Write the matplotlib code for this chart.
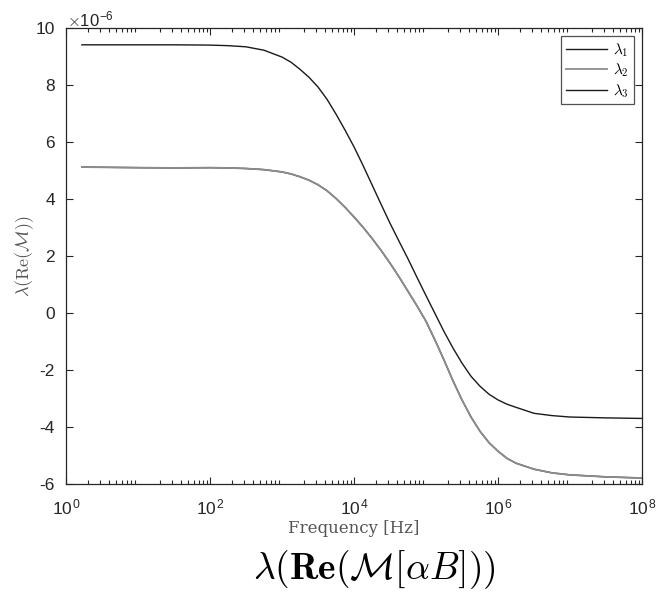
import numpy as np
import matplotlib
matplotlib.use("Agg")
import matplotlib.pyplot as plt
from matplotlib.ticker import LogLocator, NullFormatter

plt.rcParams['axes.unicode_minus'] = False
plt.rcParams['mathtext.fontset'] = 'cm'
plt.rcParams['font.family'] = ['Liberation Sans', 'DejaVu Sans']

# log10 of frequency (Hz) at which values were read
log_freq = [0.22, 1.0, 1.5, 2.0, 2.25, 2.5, 2.75, 3.0, 3.125, 3.25, 3.375, 3.5, 3.625,
            3.75, 3.875, 4.0, 4.125, 4.25, 4.375, 4.5, 4.625, 4.75, 4.875, 5.0, 5.125,
            5.25, 5.375, 5.5, 5.625, 5.75, 5.875, 6.0, 6.125, 6.25, 6.5, 6.75, 7.0,
            7.5, 8.0]
freq = [10 ** v for v in log_freq]

# Eigenvalues (units of 1e-6)
lambda3 = [9.41, 9.41, 9.41, 9.40, 9.38, 9.34, 9.22, 8.98, 8.80, 8.55, 8.27, 7.93, 7.50,
           6.98, 6.42, 5.83, 5.18, 4.50, 3.82, 3.15, 2.52, 1.90, 1.25, 0.61, -0.02,
           -0.65, -1.23, -1.76, -2.22, -2.57, -2.85, -3.05, -3.20, -3.31, -3.52, -3.60, -3.65,
           -3.68, -3.70]
lambda2 = [5.12, 5.10, 5.09, 5.10, 5.09, 5.07, 5.03, 4.95, 4.88, 4.78, 4.66, 4.50, 4.29,
           4.02, 3.71, 3.37, 3.01, 2.62, 2.20, 1.75, 1.27, 0.76, 0.25, -0.29, -0.95,
           -1.65, -2.38, -3.05, -3.65, -4.15, -4.55, -4.85, -5.10, -5.27, -5.48, -5.61, -5.68,
           -5.75, -5.79]
lambda1 = list(lambda2)

labels = [r'$\lambda_1$', r'$\lambda_2$', r'$\lambda_3$']
yticks = [10, 8, 6, 4, 2, 0, -2, -4, -6]
xticks = [1e0, 1e2, 1e4, 1e6, 1e8]
xticklabels = [r'10$^{\mathregular{0}}$', r'10$^{\mathregular{2}}$', r'10$^{\mathregular{4}}$',
               r'10$^{\mathregular{6}}$', r'10$^{\mathregular{8}}$']

fig = plt.figure(figsize=(6.56, 5.92), dpi=100)
ax = fig.add_axes([66/656, 1-484/592, (642-66)/656, (484-28)/592])

ax.plot(freq, lambda1, color='#1a1a1a', lw=1.0, label=labels[0])
ax.plot(freq, lambda2, color='#8c8c8c', lw=1.3, label=labels[1])
ax.plot(freq, lambda3, color='#1a1a1a', lw=1.0, label=labels[2])

ax.set_xscale('log')
ax.set_xlim(1, 1e8)
ax.set_ylim(-6, 10)
ax.set_xticks(xticks)
ax.set_xticklabels(xticklabels)
ax.xaxis.set_minor_locator(LogLocator(base=10, subs=np.arange(2, 10), numticks=100))
ax.xaxis.set_minor_formatter(NullFormatter())
ax.set_yticks(yticks)
ax.set_yticklabels([str(v) for v in yticks])

ax.tick_params(which='both', direction='in', top=True, right=True, labelsize=12.5,
               color='#262626', labelcolor='#262626', width=0.8)
ax.tick_params(which='major', length=5)
ax.tick_params(which='minor', length=3)
ax.tick_params(axis='x', pad=10)
ax.tick_params(axis='y', pad=8)
for s in ax.spines.values():
    s.set_linewidth(0.9)
    s.set_color('#262626')

# x10^-6 multiplier
fig.text(67/656, 1-19/592, r'$\times$10$^{\mathregular{-6}}$', fontsize=12, color='#262626',
         ha='left', va='center')

ax.set_xlabel('Frequency [Hz]', fontsize=12, color='#555555', family='DejaVu Serif', labelpad=1)
ax.set_ylabel(r'$\lambda(\mathrm{Re}(\mathcal{M}))$', fontsize=13, color='#555555', labelpad=0)

leg = ax.legend(loc='upper right', fontsize=11, frameon=True, fancybox=False,
                handlelength=2.7, borderaxespad=0.55, handletextpad=0.4,
                labelspacing=0.2, borderpad=0.3)
leg.get_frame().set_edgecolor('#262626')
leg.get_frame().set_linewidth(0.9)

fig.text(374/656, 1-570/592, r'$\lambda(\mathbf{Re}(\mathcal{M}[\alpha B]))$', fontsize=27,
         ha='center', va='center', color='black')

fig.savefig('out.png', dpi=100)
